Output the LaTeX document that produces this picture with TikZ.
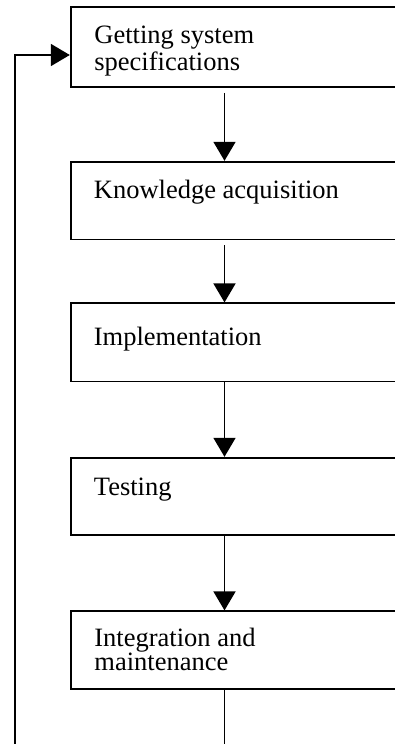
\documentclass[tikz,border=0pt]{standalone}
\usepackage{fontspec}
\setmainfont{Liberation Serif}
\usetikzlibrary{arrows.meta,fit}
\begin{document}
\begin{tikzpicture}[x=0.5pt,y=-0.5pt,
  box/.style={draw,line width=0.9pt,inner sep=0pt,rectangle},
  lbl/.style={anchor=base west,align=left,inner sep=0pt,font=\fontsize{13.25pt}{12pt}\selectfont},
  arr/.style={line width=0.9pt,-{Triangle[width=11pt,length=9.5pt]}},
  ln/.style={line width=0.9pt}]
\clip (0,0) rectangle (395,744);
\node[box, fit={(70.7,7.3) (430,87)}] (b1) {};
\node[box, fit={(70.7,161.7) (430,239.5)}] (b2) {};
\node[box, fit={(70.7,303.3) (430,381.5)}] (b3) {};
\node[box, fit={(70.7,457.7) (430,535)}] (b4) {};
\node[box, fit={(70.7,611.3) (430,688.7)}] (b5) {};
\node[lbl] (t1) at (94,70) {Getting system\\specifications};
\node[lbl] (t2) at (93.5,198.3) {Knowledge acquisition};
\node[lbl] (t3) at (93.5,345) {Implementation};
\node[lbl] (t4) at (93.5,495) {Testing};
\node[lbl] (t5) at (94,670) {Integration and\\maintenance};
\coordinate (cx) at (224.5,0);
\coordinate (fb) at (0,55);
\coordinate (bl) at (15,746);
\coordinate (br) at (224.5,746);
\draw[arr, shorten <=2.5pt] (b1.south -| cx) -- (b2.north -| cx);
\draw[arr, shorten <=2.5pt] (b2.south -| cx) -- (b3.north -| cx);
\draw[arr] (b3.south -| cx) -- (b4.north -| cx);
\draw[arr] (b4.south -| cx) -- (b5.north -| cx);
\draw[ln] (b5.south -| cx) -- (br);
\draw[arr] (bl) |- (b1.west |- fb);
\end{tikzpicture}
\end{document}
